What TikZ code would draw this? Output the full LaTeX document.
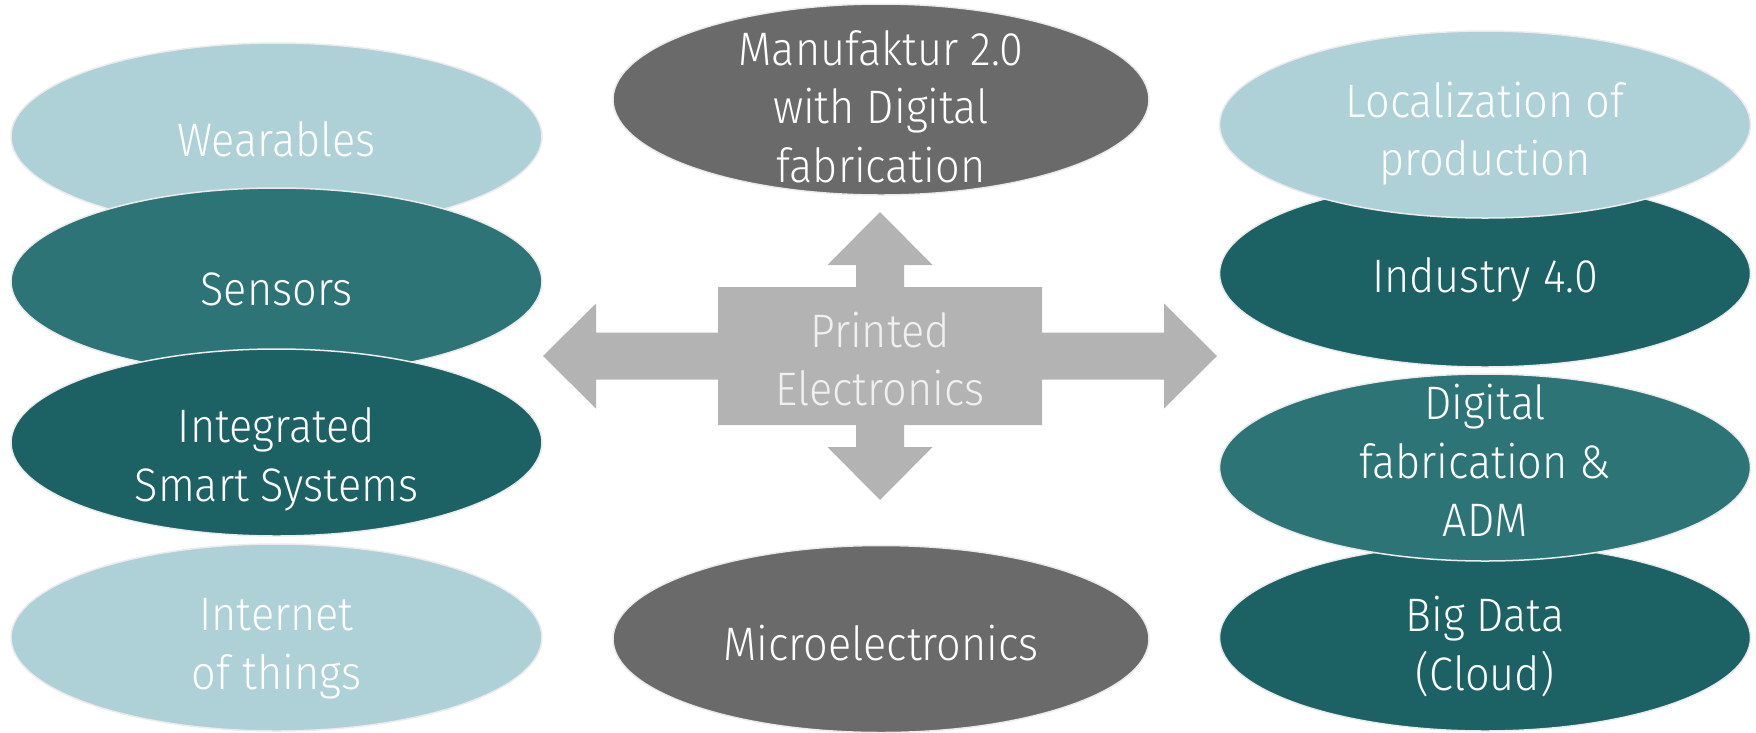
\documentclass[tikz,border=0pt]{standalone}
\usepackage{fontspec}
\setmainfont{Fira Sans}[UprightFont={* Light}, FakeStretch=0.92]
\usetikzlibrary{shapes.geometric}

\definecolor{paleblue}{HTML}{AED1D7}
\definecolor{midteal}{HTML}{2D7476}
\definecolor{deepteal}{HTML}{1C6265}
\definecolor{slate}{HTML}{6A6A6A}
\definecolor{arrowgrey}{HTML}{B3B3B3}
\definecolor{rimgrey}{HTML}{EBEBEB}

\tikzset{
  bubble/.style={ellipse, draw=rimgrey, line width=1.5pt, inner sep=0pt,
    minimum width=531pt, minimum height=187pt},
  caption/.style={text=white, align=center, inner sep=0pt,
    font=\fontsize{47}{58.5}\selectfont},
  pale/.style={bubble, fill=paleblue},
  mid/.style={bubble, fill=midteal},
  deep/.style={bubble, fill=deepteal},
  grey/.style={bubble, fill=slate, minimum width=536pt},
  hub/.style={caption, text=white!94!black}
}

\begin{document}
\begin{tikzpicture}[x=1pt, y=-1pt]
\useasboundingbox (0,0) rectangle (1756,732);

% left column, each bubble laid over the one above it
\node[pale] (wear) at (276.5,136.5) {};
\node[caption, yshift=-3pt] (wear-t) at (wear) {Wearables};
\node[mid] (sens) at (276.5,281.5) {};
\node[caption, yshift=-8pt] (sens-t) at (sens) {Sensors};
\node[deep] (iss) at (276.5,442.5) {};
\node[caption, yshift=-17pt] (iss-t) at (iss) {Integrated\\Smart Systems};
\node[pale] (iot) at (276.5,637.5) {};
\node[caption, yshift=-11pt] (iot-t) at (iot) {Internet\\of things};

% right column, each bubble laid over the one below it
\node[deep] (big) at (1485,637.5) {};
\node[caption, yshift=-9pt] (big-t) at (big) {Big Data\\(Cloud)};
\node[mid] (dfab) at (1485,467.5) {};
\node[caption, yshift=7pt] (dfab-t) at (dfab) {Digital\\fabrication \&\\ADM};
\node[deep] (ind) at (1485,273.5) {};
\node[caption, yshift=-6pt] (ind-t) at (ind) {Industry 4.0};
\node[pale] (loc) at (1485,124.5) {};
\node[caption, yshift=-9pt] (loc-t) at (loc) {Localization of\\production};

% middle column
\node[grey, minimum height=191pt] (manu) at (881,99.5) {};
\node[caption, yshift=-7pt] (manu-t) at (manu) {Manufaktur 2.0\\with Digital\\fabrication};
\node[grey] (micro) at (881,639) {};
\node[caption, yshift=-4.5pt] (micro-t) at (micro) {Microelectronics};

% four-way arrow around the central label
\fill[arrowgrey]
  (543,356) -- (596,303.5) -- (596,332.5) -- (718,332.5) -- (718,287)
  -- (856,287) -- (856,265) -- (827.5,265) -- (880,212) -- (932.5,265)
  -- (904,265) -- (904,287) -- (1042,287) -- (1042,332.5) -- (1164,332.5)
  -- (1164,303.5) -- (1217,356) -- (1164,408.5) -- (1164,379.5)
  -- (1042,379.5) -- (1042,425) -- (904,425) -- (904,447) -- (932.5,447)
  -- (880,500) -- (827.5,447) -- (856,447) -- (856,425) -- (718,425)
  -- (718,379.5) -- (596,379.5) -- (596,408.5) -- cycle;
\node[hub, yshift=-3pt] (pe) at (880,356) {Printed\\Electronics};
\end{tikzpicture}
\end{document}
